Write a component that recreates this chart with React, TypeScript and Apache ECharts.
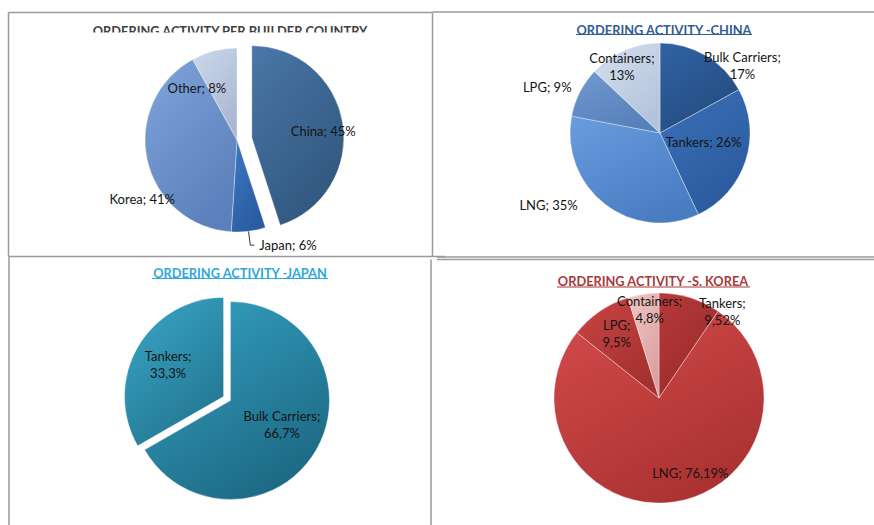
import React, { useEffect, useRef } from "react";
import * as echarts from "echarts";

// ---- data ----
const builderCountries = ["China", "Japan", "Korea", "Other"];
const builderShares = [45, 6, 41, 8];

const chinaTypes = ["Bulk Carriers", "Tankers", "LNG", "LPG", "Containers"];
const chinaShares = [17, 26, 35, 9, 13];

const japanTypes = ["Bulk Carriers", "Tankers"];
const japanShares = [66.7, 33.3];

const koreaTypes = ["Tankers", "LNG", "LPG", "Containers"];
const koreaShares = [9.52, 76.19, 9.5, 4.8];

const titles = [
  "ORDERING ACTIVITY PER BUILDER COUNTRY",
  "ORDERING ACTIVITY -CHINA",
  "ORDERING ACTIVITY -JAPAN",
  "ORDERING ACTIVITY -S. KOREA",
];

// ---- styles ----
const FONT = "Lato, 'Open Sans', sans-serif";
const LABEL_COLOR = "#141414";

const grad = (a: string, b: string) =>
  new echarts.graphic.LinearGradient(0, 0, 0.6, 1, [
    { offset: 0, color: a },
    { offset: 1, color: b },
  ]);

const builderColors = [
  ["#4a77a6", "#30577f"],
  ["#3d78c4", "#2a5c9f"],
  ["#80a4db", "#5b80bb"],
  ["#cdd8ea", "#a9b8d3"],
];
const chinaColors = [
  ["#3163a3", "#234b80"],
  ["#3c70b8", "#2b5b9d"],
  ["#6a9ce0", "#4a7cc2"],
  ["#7199cf", "#5680ba"],
  ["#d5dfee", "#b4c3dc"],
];
const japanColors = [
  ["#36a3c4", "#1d6a85"],
  ["#3aa8c8", "#237792"],
];
const koreaColors = [
  ["#b83a3a", "#992a2a"],
  ["#d34b4b", "#ac3232"],
  ["#c94444", "#a53030"],
  ["#f0c6c6", "#dba0a0"],
];

// label line breaks and fine offsets (layout only)
const builderBreaks = [false, false, false, false];
const builderOffsets = [[23, 1], [0, 0], [-47, 48], [-28, -5]];
const chinaBreaks = [true, false, false, false, true];
const chinaOffsets = [[58, -26], [-2, -6], [-82, 34], [-70, -24], [-19, -22]];
const japanBreaks = [true, true];
const japanOffsets = [[6, -2], [-10, -6]];
const koreaBreaks = [true, false, true, true];
const koreaOffsets = [[47, -33], [23, 20], [-11, -19], [-1, -34]];

const fmt = (v: number) => String(v).replace(".", ",") + "%";

function makeSeries(
  names: string[],
  values: number[],
  colors: string[][],
  breaks: boolean[],
  offsets: number[][],
  center: number[],
  radius: number,
  opts: any = {}
) {
  return {
    type: "pie",
    center,
    radius,
    startAngle: 90,
    clockwise: true,
    avoidLabelOverlap: false,
    selectedMode: opts.selectedMode || false,
    selectedOffset: opts.selectedOffset || 0,
    select: { itemStyle: {}, label: {} },
    emphasis: { disabled: true },
    label: {
      show: true,
      position: "inside",
      color: LABEL_COLOR,
      fontFamily: FONT,
      fontSize: 13,
      lineHeight: 17,
      formatter: (p: any) =>
        p.name + ";" + (breaks[p.dataIndex] ? "\n" : " ") + fmt(values[p.dataIndex]),
    },
    labelLine: { show: false },
    labelLayout: (p: any) => {
      const o = offsets[p.dataIndex] || [0, 0];
      return { dx: o[0], dy: o[1] };
    },
    data: names.map((n, i) => {
      const item: any = {
        name: n,
        value: values[i],
        itemStyle: {
          color: grad(colors[i][0], colors[i][1]),
          borderColor: "rgba(255,255,255,0.35)",
          borderWidth: 1,
        },
      };
      if (opts.selected && opts.selected.includes(i)) item.selected = true;
      if (opts.outside && opts.outside.includes(i)) {
        item.label = { position: "outside", align: "left" };
        item.labelLine = {
          show: true,
          length: 14,
          length2: 4,
          smooth: false,
          lineStyle: { color: "#333", width: 1 },
        };
      }
      return item;
    }),
  };
}

export default function App() {
  const ref = useRef<HTMLDivElement>(null);

  useEffect(() => {
    if (!ref.current) return;
    const chart = echarts.init(ref.current, undefined, { renderer: "svg" });

    const lineStyle = { stroke: "#9a9a9a", lineWidth: 1.5 };
    const borders = [
      [8.5, 12.5, 432.5, 12.5],
      [432.5, 12, 874, 12],
      [8.5, 12.5, 8.5, 256.5],
      [432.5, 12.5, 432.5, 256.5],
      [8.5, 256.5, 445, 256.5],
      [437, 257, 874, 257],
      [437, 259.5, 874, 259.5],
      [9, 256.5, 9, 525],
      [431, 259.5, 431, 525],
    ];

    const titleDefs = [
      { x: 230, y: 24.5, color: "#404040" },
      { x: 664, y: 23.5, color: "#2f5d94" },
      { x: 240, y: 266, color: "#2fa8dc" },
      { x: 653, y: 274.5, color: "#a83a3a" },
    ];

    const graphics: any[] = [];
    borders.forEach((b) =>
      graphics.push({
        type: "line",
        shape: { x1: b[0], y1: b[1], x2: b[2], y2: b[3] },
        style: lineStyle,
        silent: true,
      })
    );
    titleDefs.forEach((t, i) => {
      graphics.push({
        type: "text",
        x: t.x,
        y: t.y,
        style: {
          text: titles[i],
          fill: t.color,
          font: `bold 12.8px ${FONT}`,
          textAlign: "center",
          textVerticalAlign: "top",
        },
        silent: true,
      });
    });
    // clip the first title's lower part, as in the source image
    graphics.push({
      type: "rect",
      shape: { x: 80, y: 32.5, width: 300, height: 6 },
      style: { fill: "#ffffff" },
      silent: true,
      z: 10,
    });
    // underlines
    const underlines = [
      [576, 752, 34.5, "#2f5d94"],
      [152, 328, 278.5, "#2fa8dc"],
      [557, 750, 287, "#a83a3a"],
    ];
    underlines.forEach((u: any) =>
      graphics.push({
        type: "line",
        shape: { x1: u[0], y1: u[2], x2: u[1], y2: u[2] },
        style: { stroke: u[3], lineWidth: 1 },
        silent: true,
      })
    );

    chart.setOption({
      animation: false,
      backgroundColor: "#ffffff",
      graphic: graphics,
      series: [
        makeSeries(builderCountries, builderShares, builderColors, builderBreaks, builderOffsets, [237, 140], 92, {
          selectedMode: "single",
          selectedOffset: 15,
          selected: [0],
          outside: [1],
        }),
        makeSeries(chinaTypes, chinaShares, chinaColors, chinaBreaks, chinaOffsets, [660, 133], 90),
        makeSeries(japanTypes, japanShares, japanColors, japanBreaks, japanOffsets, [227, 398.5], 99, {
          selectedMode: "multiple",
          selectedOffset: 4,
          selected: [0, 1],
        }),
        makeSeries(koreaTypes, koreaShares, koreaColors, koreaBreaks, koreaOffsets, [659, 398], 105),
      ],
    });

    return () => chart.dispose();
  }, []);

  return (
    <div
      ref={ref}
      style={{ position: "fixed", left: 0, top: 0, width: 874, height: 525, background: "#fff" }}
    />
  );
}
